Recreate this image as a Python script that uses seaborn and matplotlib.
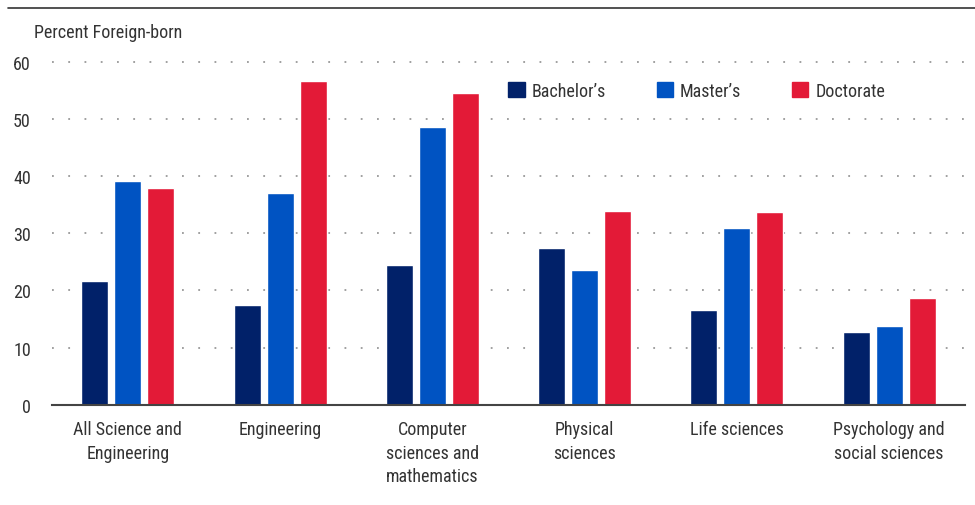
import matplotlib
matplotlib.use('Agg')
import matplotlib.pyplot as plt
import matplotlib.lines as mlines
import matplotlib.patches as mpatches
import pandas as pd
import seaborn as sns

# Data
fields = ['All Science and\nEngineering', 'Engineering', 'Computer\nsciences and\nmathematics',
          'Physical\nsciences', 'Life sciences', 'Psychology and\nsocial sciences']
degrees = ['Bachelor\u2019s', 'Master\u2019s', 'Doctorate']
bachelors = [21.6, 17.4, 24.4, 27.4, 16.5, 12.8]
masters = [39.1, 37.0, 48.6, 23.5, 30.9, 13.7]
doctorate = [37.9, 56.7, 54.6, 33.9, 33.7, 18.6]
colors = ['#012169', '#0053c2', '#e31a37']

df = pd.DataFrame({
    'field': fields * 3,
    'degree': [degrees[0]] * 6 + [degrees[1]] * 6 + [degrees[2]] * 6,
    'value': bachelors + masters + doctorate,
})

sns.set_style('white')
plt.rcParams['font.family'] = ['Roboto Condensed', 'Lato', 'DejaVu Sans']
text_col = '#333333'

fig = plt.figure(figsize=(9.75, 5.06), dpi=100)
ax = fig.add_axes([0.053, 0.198, 0.937, 0.687])

sns.barplot(data=df, x='field', y='value', hue='degree', palette=colors,
            width=0.65, gap=0.18, ax=ax, legend=False, saturation=1)

ax.set_xlim(-0.5, 5.5)
ax.set_ylim(0, 60.8)
ax.set_yticks(range(0, 61, 10))
ax.set_xlabel('')
ax.set_ylabel('')
ax.yaxis.grid(True, linestyle=(0, (1, 8)), color='#999999', linewidth=1.3)
ax.set_axisbelow(True)
for s in ['top', 'right', 'left']:
    ax.spines[s].set_visible(False)
ax.spines['bottom'].set_color('#444444')
ax.spines['bottom'].set_linewidth(1.5)
ax.tick_params(axis='both', length=0, labelsize=13, colors=text_col)
ax.tick_params(axis='x', pad=11)
ax.tick_params(axis='y', pad=15)
for lab in ax.get_xticklabels():
    lab.set_linespacing(1.4)
    lab.set_va('top')

handles = [mpatches.Patch(color=c, label=d) for c, d in zip(colors, degrees)]
ax.legend(handles=handles, ncol=3, frameon=False, loc='center left',
          bbox_to_anchor=(0.482, 0.903), fontsize=13, handlelength=0.9,
          handleheight=0.9, handletextpad=0.4, columnspacing=2.8,
          labelcolor=text_col)

fig.text(0.035, 0.935, 'Percent Foreign-born', fontsize=13, color=text_col, va='center')
fig.add_artist(mlines.Line2D([0.008, 1.0], [0.982, 0.982], color='#333333', linewidth=1.2))

fig.savefig('out.png', dpi=100)
